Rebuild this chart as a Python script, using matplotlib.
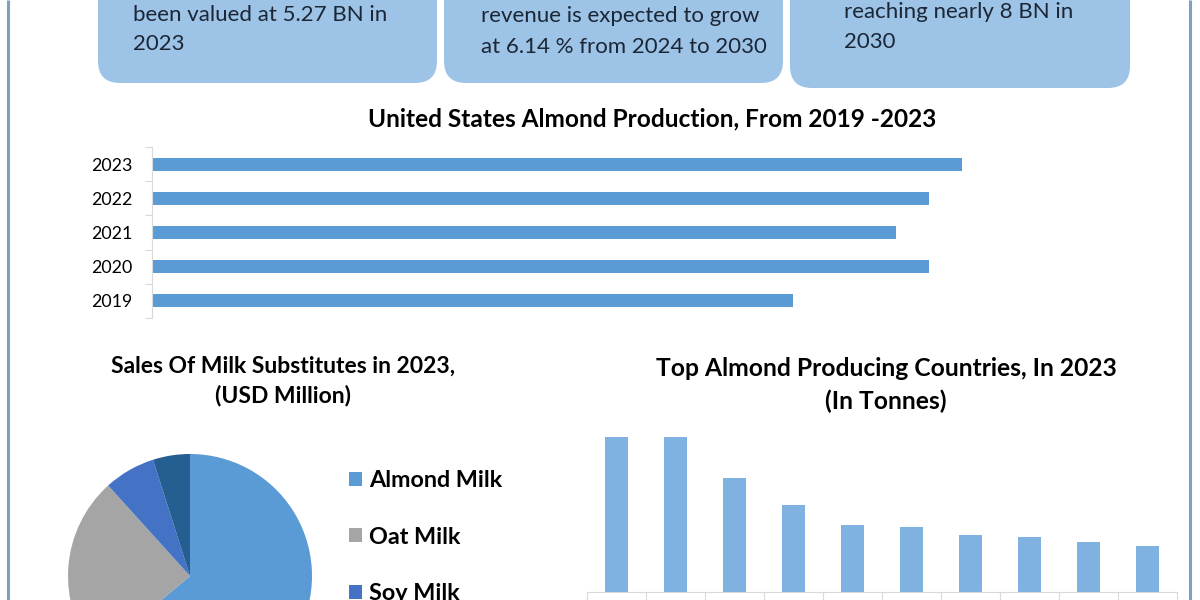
import matplotlib
matplotlib.use("Agg")

import matplotlib.pyplot as plt
import numpy as np
from matplotlib.patches import FancyBboxPatch

plt.rcParams["font.family"] = ["Lato", "DejaVu Sans"]

# ---------------- data ----------------
BOX_LINES = [
    ["been valued at 5.27 BN in", "2023"],
    ["revenue is expected to grow", "at 6.14 % from 2024 to 2030"],
    ["reaching nearly 8 BN in", "2030"],
]

US_YEARS = ["2019", "2020", "2021", "2022", "2023"]
US_PRODUCTION = [2.55, 3.09, 2.96, 3.09, 3.22]

MILK_TYPES = ["Almond Milk", "Oat Milk", "Soy Milk", "Others"]
MILK_SALES = [63.9, 24.4, 6.8, 4.9]

# country names sit below the visible crop in the source image
COUNTRIES = ["United States", "Spain", "Australia", "Turkey", "Iran",
             "Morocco", "Portugal", "Italy", "Tunisia", "Syria"]
COUNTRY_TONNES = [1550000, 1550000, 1136000, 866000, 674000,
                  650000, 573000, 549000, 502000, 458000]

# ---------------- style ----------------
W, H = 1200, 600
BOX_BLUE = "#9dc3e6"
BAR_BLUE = "#5b9bd5"
COL_BLUE = "#7fb1e1"
PIE_COLORS = ["#5b9bd5", "#a5a5a5", "#4472c4", "#255e91"]
AXIS_GREY = "#d9d9d9"
TEXT_DARK = "#1b2636"
FRAME_BLUE = "#7f9fc4"


def px_rect(x0, y0, x1, y1):
    # pixel box (top-left origin) -> figure fraction rect
    return [x0 / W, 1 - y1 / H, (x1 - x0) / W, (y1 - y0) / H]


fig = plt.figure(figsize=(12, 6), dpi=100)
fig.patch.set_facecolor("white")

bg = fig.add_axes([0, 0, 1, 1])
bg.set_xlim(0, W)
bg.set_ylim(H, 0)
bg.axis("off")

# side frame lines
for xf in (8, 1190):
    bg.plot([xf, xf], [0, H], color=FRAME_BLUE, lw=2.2, solid_capstyle="butt")

# top info boxes
boxes = [(98, 437, 83), (444, 783, 83), (790, 1130, 88)]
text_x = [133, 481, 844]
baselines = [(21, 50), (22, 53), (18, 48)]
for (x0, x1, yb), tx, (b1, b2), lines in zip(boxes, text_x, baselines, BOX_LINES):
    bg.add_patch(FancyBboxPatch((x0, -40), x1 - x0, yb + 40,
                                boxstyle="round,pad=0,rounding_size=22",
                                fc=BOX_BLUE, ec="none"))
    bg.text(tx, b1, lines[0], fontsize=16, color=TEXT_DARK, va="baseline", ha="left")
    bg.text(tx, b2, lines[1], fontsize=16, color=TEXT_DARK, va="baseline", ha="left")

# ---------------- US production (horizontal bars) ----------------
bg.text(652, 126, "United States Almond Production, From 2019 -2023",
        ha="center", va="baseline", fontsize=17.6, fontweight="bold", color="black")

ax1 = fig.add_axes(px_rect(152, 147, 1130, 318))
yy = np.arange(len(US_YEARS))
ax1.barh(yy, US_PRODUCTION, height=0.38, color=BAR_BLUE)
ax1.set_ylim(-0.5, len(US_YEARS) - 0.5)
ax1.set_xlim(0, 3.89)
for s in ("top", "right", "bottom"):
    ax1.spines[s].set_visible(False)
ax1.spines["left"].set_color(AXIS_GREY)
ax1.set_xticks([])
ax1.set_yticks(np.arange(-0.5, len(US_YEARS), 1))
ax1.set_yticklabels([])
ax1.set_yticks(yy, US_YEARS, minor=True)
ax1.tick_params(axis="y", which="major", length=5, color=AXIS_GREY)
ax1.tick_params(axis="y", which="minor", length=0, labelsize=12.8, pad=14)
ax1.patch.set_alpha(0)

# ---------------- milk substitutes (pie) ----------------
bg.text(283, 381, "Sales Of Milk Substitutes in 2023,\n(USD Million)",
        ha="center", va="center", fontsize=16.5, fontweight="bold",
        linespacing=1.4, color="black")

ax2 = fig.add_axes(px_rect(68, 454, 312, 698))
wedges, _ = ax2.pie(MILK_SALES, colors=PIE_COLORS, startangle=90,
                    counterclock=False, radius=1,
                    wedgeprops=dict(linewidth=0))
ax2.set_xlim(-1, 1)
ax2.set_ylim(-1, 1)
ax2.legend(wedges, MILK_TYPES, loc="upper left",
           bbox_to_anchor=(349 / W, 1 - 470 / H), bbox_transform=fig.transFigure,
           frameon=False, prop=dict(weight="bold", size=16.8),
           handlelength=0.55, handleheight=0.55, handletextpad=0.3,
           labelspacing=1.53, borderpad=0, borderaxespad=0)

# ---------------- top producing countries (columns) ----------------
bg.text(886, 385, "Top Almond Producing Countries, In 2023\n(In Tonnes)",
        ha="center", va="center", fontsize=17.7, fontweight="bold",
        linespacing=1.45, color="black")

ax3 = fig.add_axes(px_rect(587, 420, 1177, 592))
xx = np.arange(len(COUNTRIES))
ax3.bar(xx, COUNTRY_TONNES, width=0.39, color=COL_BLUE)
ax3.set_xlim(-0.5, len(COUNTRIES) - 0.5)
ax3.set_ylim(0, 1720000)
for s in ("top", "right", "left"):
    ax3.spines[s].set_visible(False)
ax3.spines["bottom"].set_color(AXIS_GREY)
ax3.set_yticks([])
ax3.set_xticks(np.arange(-0.5, len(COUNTRIES), 1))
ax3.set_xticklabels([])
ax3.tick_params(axis="x", which="major", length=8, color=AXIS_GREY)
ax3.patch.set_alpha(0)

fig.savefig("out.png", dpi=100)
